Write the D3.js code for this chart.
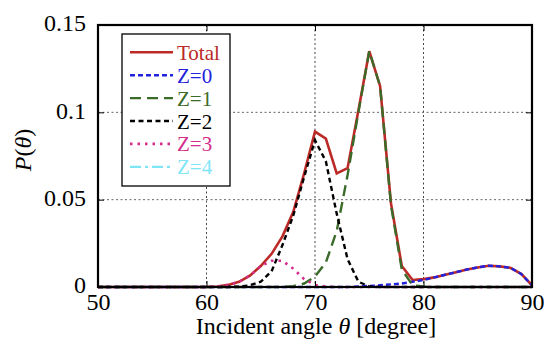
<!DOCTYPE html>
<html><head><meta charset="utf-8">
<script src="https://cdn.jsdelivr.net/npm/d3@7"></script>
<style>body{margin:0;background:#fff}svg{display:block}</style>
</head><body>
<svg id="c" width="544" height="339"></svg>
<script>
const angles = [50,51,52,53,54,55,56,57,58,59,60,61,62,63,64,65,66,67,68,69,70,71,72,73,74,75,76,77,78,79,80,81,82,83,84,85,86,87,88,89,90];
const total = [0,0,0,0,0,0,0,0,0,0,0,0.0003,0.0012,0.003,0.0065,0.012,0.019,0.029,0.043,0.065,0.089,0.085,0.065,0.068,0.101,0.135,0.115,0.048,0.012,0.004,0.0045,0.0055,0.007,0.0085,0.010,0.0112,0.0122,0.0118,0.011,0.0075,0.001];
const z0 = [0,0,0,0,0,0,0,0,0,0,0,0,0,0,0,0,0,0,0,0,0,0,0,0,0.0003,0.0006,0.001,0.0015,0.002,0.003,0.004,0.0055,0.007,0.0085,0.010,0.0112,0.0122,0.0118,0.011,0.0075,0.001];
const z1 = [0,0,0,0,0,0,0,0,0,0,0,0,0,0,0,0,0,0,0.0005,0.002,0.006,0.014,0.032,0.064,0.100,0.135,0.115,0.047,0.010,0.001,0.0003,0,0,0,0,0,0,0,0,0,0];
const z2 = [0,0,0,0,0,0,0,0,0,0,0,0,0,0.0002,0.001,0.003,0.009,0.024,0.041,0.063,0.084,0.072,0.042,0.016,0.003,0.0003,0,0,0,0,0,0,0,0,0,0,0,0,0,0,0];
const z3 = [0,0,0,0,0,0,0,0,0,0,0,0.0003,0.0012,0.003,0.0065,0.012,0.015,0.015,0.0105,0.0045,0.0012,0.0002,0,0,0,0,0,0,0,0,0,0,0,0,0,0,0,0,0,0,0];
const z4 = [0,0,0,0,0,0,0,0,0,0,0,0,0,0,0,0,0,0,0,0,0,0,0,0,0,0,0,0,0,0,0,0,0,0,0,0,0,0,0,0,0];
const seriesNames = ["Total","Z=0","Z=1","Z=2","Z=3","Z=4"];
const xTicks = [50,60,70,80,90];
const yTicks = [0,0.05,0.1,0.15];
const yTickLabels = ["0","0.05","0.1","0.15"];

const series = [
  {name:seriesNames[0], values:total, color:"#bb2a26", dash:null, w:2.6},
  {name:seriesNames[1], values:z0, color:"#2222dd", dash:"5,3", w:2.4},
  {name:seriesNames[2], values:z1, color:"#3b6b28", dash:"11,6", w:2.4},
  {name:seriesNames[3], values:z2, color:"#000000", dash:"5,3.5", w:2.4},
  {name:seriesNames[4], values:z3, color:"#d42c8c", dash:"2.5,5", w:2.6},
  {name:seriesNames[5], values:z4, color:"#80e6f6", dash:"11,4,3,4", w:2.2}
];

const FONT = "Liberation Serif";
const svg = d3.select("#c");
const L=98, R=532, T=25, B=287;
const x = d3.scaleLinear().domain([50,90]).range([L,R]);
const y = d3.scaleLinear().domain([0,0.15]).range([B,T]);

// grid
const g = svg.append("g");
g.selectAll(".vg").data([60,70,80]).enter().append("line")
  .attr("x1",d=>x(d)).attr("x2",d=>x(d)).attr("y1",T).attr("y2",B)
  .attr("stroke","#444").attr("stroke-width",1).attr("stroke-dasharray","2,2.5");
g.selectAll(".hg").data([0.05,0.1]).enter().append("line")
  .attr("x1",L).attr("x2",R).attr("y1",d=>y(d)).attr("y2",d=>y(d))
  .attr("stroke","#666").attr("stroke-width",1).attr("stroke-dasharray","2,2.5");

// lines
const line = d3.line().x((d,i)=>x(angles[i])).y(d=>y(d));
series.forEach(s=>{
  svg.append("path").datum(s.values).attr("d",line)
    .attr("fill","none").attr("stroke",s.color).attr("stroke-width",s.w)
    .attr("stroke-dasharray",s.dash).attr("stroke-linejoin","miter");
});

// axes (inward ticks on all sides)
const xb = d3.axisBottom(x).tickValues(xTicks).tickSize(-6).tickPadding(6).tickFormat(d3.format("d"));
const xt = d3.axisTop(x).tickValues(xTicks).tickSize(-6).tickFormat("");
const yl = d3.axisLeft(y).tickValues(yTicks).tickSize(-6).tickPadding(12).tickFormat((d,i)=>yTickLabels[i]);
const yr = d3.axisRight(y).tickValues(yTicks).tickSize(-6).tickFormat("");
function style(sel){
  sel.select(".domain").remove();
  sel.attr("font-family",FONT).attr("font-size",24);
  sel.selectAll("line").attr("stroke","#000").attr("stroke-width",1);
  sel.selectAll("text").attr("font-family",FONT).attr("font-size",24).attr("fill","#000");
}
svg.append("g").attr("transform",`translate(0,${B})`).call(xb).call(style);
svg.append("g").attr("transform",`translate(0,${T})`).call(xt).call(style);
svg.append("g").attr("transform",`translate(${L},0)`).call(yl).call(style)
  .selectAll("text").attr("dy","0.24em");
svg.append("g").attr("transform",`translate(${R},0)`).call(yr).call(style);

// frame
svg.append("rect").attr("x",L).attr("y",T).attr("width",R-L).attr("height",B-T)
  .attr("fill","none").attr("stroke","#000").attr("stroke-width",2.2);

// axis labels
const xl = svg.append("text").attr("x",316).attr("y",334).attr("text-anchor","middle")
  .attr("font-family",FONT).attr("font-size",24);
xl.append("tspan").text("Incident angle ");
xl.append("tspan").attr("font-style","italic").text("θ");
xl.append("tspan").text(" [degree]");

const ylab = svg.append("text").attr("transform","translate(31,150) rotate(-90)")
  .attr("text-anchor","middle").attr("font-family",FONT).attr("font-size",24);
ylab.append("tspan").attr("font-style","italic").text("P");
ylab.append("tspan").text("(");
ylab.append("tspan").attr("font-style","italic").text("θ");
ylab.append("tspan").text(")");

// legend
const lg = svg.append("g");
lg.append("rect").attr("x",122).attr("y",34).attr("width",108).attr("height",152)
  .attr("fill","#fff").attr("stroke","#000").attr("stroke-width",1.3);
series.forEach((s,i)=>{
  const yy = 52.3 + i*22.9;
  lg.append("line").attr("x1",130).attr("x2",173).attr("y1",yy).attr("y2",yy)
    .attr("stroke",s.color).attr("stroke-width",s.w).attr("stroke-dasharray",s.dash);
  lg.append("text").attr("x",177).attr("y",yy+7.5).attr("fill",s.color)
    .attr("font-family",FONT).attr("font-size",21).text(s.name);
});
</script>
</body></html>
